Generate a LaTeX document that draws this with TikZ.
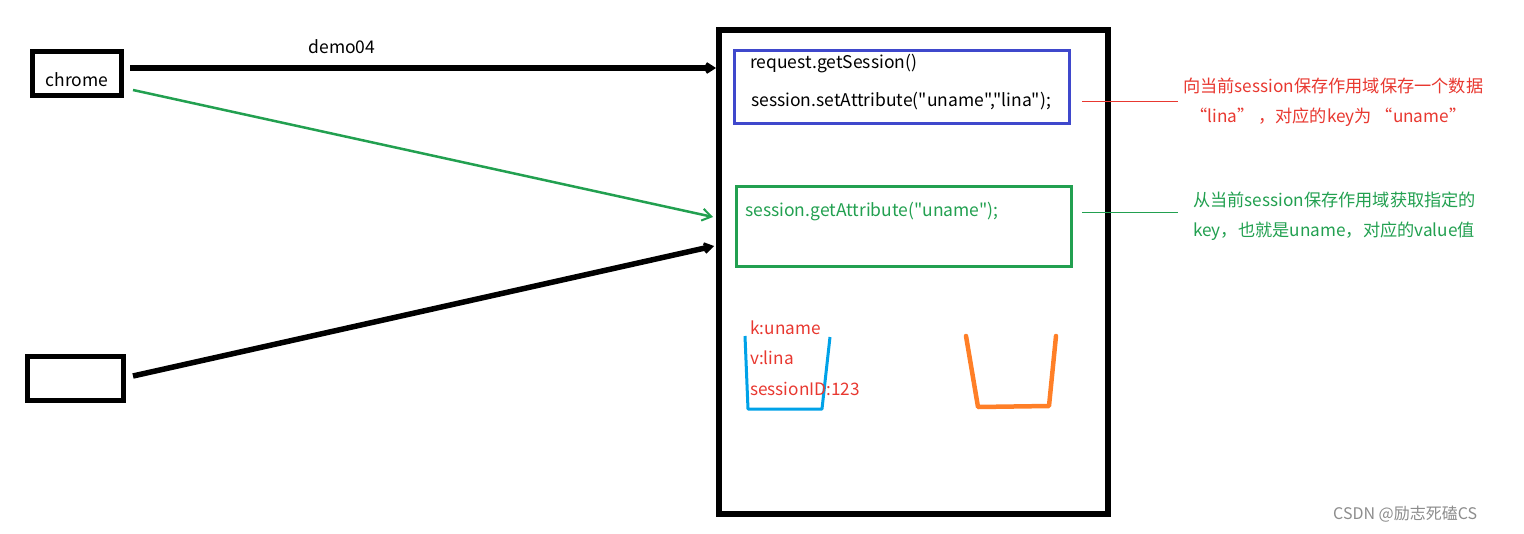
\documentclass[tikz,border=0pt]{standalone}
\usepackage{fontspec}
\setmainfont{Noto Sans CJK SC}[Ligatures=TeXOff]
\usetikzlibrary{arrows.meta}
\definecolor{pblue}{RGB}{63,72,204}
\definecolor{pgreen}{RGB}{34,160,80}
\definecolor{pred}{RGB}{232,56,48}
\definecolor{pcyan}{RGB}{0,162,232}
\definecolor{porange}{RGB}{255,127,39}
\begin{document}
\begin{tikzpicture}[x=1pt,y=-1pt,
  box/.style={draw, line width=#1, inner sep=0pt},
  code/.style={anchor=west, inner sep=0pt, font=\fontsize{17.5}{20}\selectfont},
  note/.style={anchor=west, inner sep=0pt, font=\fontsize{17.2}{20}\selectfont},
  thickarrow/.style={line width=5.5pt, -{Straight Barb[length=7pt,width=9pt,line width=3pt]}},
  thinarrow/.style={line width=2.5pt, -{Straight Barb[length=9pt,width=12pt,line width=2pt]}}]
\useasboundingbox (0,0) rectangle (1524,533);
% client boxes
\node[box=5pt, minimum width=89pt, minimum height=44pt] (chrome) at (77,73.5) {};
\node[code, anchor=center] (chrometxt) at (77,80) {chrome};
\node[box=5pt, minimum width=96pt, minimum height=44pt] (other) at (75.5,378.5) {};
% server
\node[box=6pt, minimum width=389pt, minimum height=484pt] (server) at (913.5,272) {};
\node[box=3pt, draw=pblue, minimum width=335pt, minimum height=73pt] (setbox) at (902,87) {};
\node[box=3pt, draw=pgreen, minimum width=335pt, minimum height=80pt] (getbox) at (904,226.5) {};
\node[code] (req) at (750,64) {request.getSession()};
\node[code] (set) at (751,101) {session.setAttribute("uname","lina");};
\node[code, text=pgreen] (get) at (745,212) {session.getAttribute("uname");};
% arrows
\coordinate (a1s) at (130,68);
\coordinate (a1e) at (716,68);
\coordinate (a2s) at (133,90);
\coordinate (a2e) at (713,217);
\coordinate (a3s) at (133,376);
\coordinate (a3e) at (714,246);
\draw[thickarrow] (a1s) -- (a1e);
\node[code, anchor=center] (demo) at (342,47) {demo04};
\draw[thinarrow, draw=pgreen] (a2s) -- (a2e);
\draw[thickarrow] (a3s) -- (a3e);
% annotations
\coordinate (r1) at (1082,101);
\coordinate (r2) at (1178,101);
\draw[pred, line width=1pt] (r1) -- (r2);
\node[note, text=pred] (n1) at (1183,86) {向当前session保存作用域保存一个数据};
\node[note, text=pred] (n2) at (1190,117) {“lina” ，对应的key为 “uname”};
\coordinate (g1) at (1082,212);
\coordinate (g2) at (1178,212);
\draw[pgreen, line width=1pt] (g1) -- (g2);
\node[note, text=pgreen] (n3) at (1193,200) {从当前session保存作用域获取指定的};
\node[note, text=pgreen] (n4) at (1193,231) {key，也就是uname，对应的value值};
% cups
\draw[pcyan, line width=3pt, line join=round] (745,336) -- (748,409) -- (822,409) -- (830,337);
\draw[porange, line width=4.5pt, line join=round, line cap=round] (966,336) -- (978,407) -- (1049,406) -- (1056,336);
\node[note, text=pred] (k) at (750,328) {k:uname};
\node[note, text=pred] (v) at (750,358) {v:lina};
\node[note, text=pred] (sid) at (750,389) {sessionID:123};
% watermark
\node[note, text=black!45, font=\fontsize{16}{18}\selectfont] (wm) at (1333,514) {CSDN @励志死磕CS};
\end{tikzpicture}
\end{document}
